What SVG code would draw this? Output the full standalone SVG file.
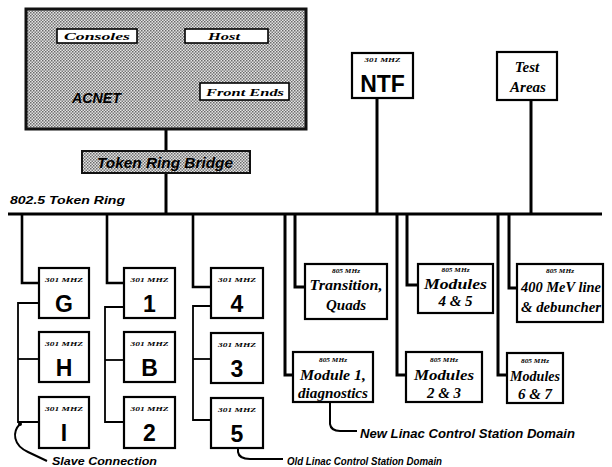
<svg xmlns="http://www.w3.org/2000/svg" width="612" height="467" viewBox="0 0 612 467">
<defs>
<pattern id="ht" width="3" height="3" patternUnits="userSpaceOnUse">
<rect width="3" height="3" fill="#e4e4e4"/>
<rect x="0" y="0" width="1.5" height="1.5" fill="#6a6a6a"/>
<rect x="1.5" y="1.5" width="1.5" height="1.5" fill="#7a7a7a"/>
</pattern>
</defs>
<style>
.box{fill:#fff;stroke:#000;stroke-width:2.2}
.ibox{fill:#fff;stroke:#000;stroke-width:1.6}
.gray{fill:url(#ht);stroke:#111;stroke-width:3}
.w{fill:none;stroke:#000;stroke-width:3}
.d{fill:none;stroke:#000;stroke-width:2.6}
.s{fill:none;stroke:#000;stroke-width:1.8}
.p{fill:none;stroke:#000;stroke-width:2}
.sm{font-family:"Liberation Serif",serif;font-weight:bold;font-style:italic;font-size:6px;text-anchor:middle}
.big{font-family:"Liberation Sans",Arial,sans-serif;font-weight:bold;font-size:23px;text-anchor:middle}
.lab{font-family:"Liberation Serif",serif;font-weight:bold;font-style:italic;font-size:15px;text-anchor:middle}
.il{font-family:"Liberation Serif",serif;font-weight:bold;font-style:italic;font-size:11px;text-anchor:middle}
.sans{font-family:"Liberation Sans",Arial,sans-serif;font-weight:bold;font-style:italic}
</style>

<g id="connectors">
<line class="w" x1="54" y1="57" x2="259" y2="57"/>
<line class="w" x1="97" y1="43" x2="97" y2="57"/>
<line class="w" x1="230" y1="43" x2="230" y2="57"/>
<line class="w" x1="246" y1="57" x2="246" y2="83"/>
<line class="w" x1="166" y1="57" x2="166" y2="151"/>
<line class="w" x1="166" y1="173" x2="166" y2="214"/>
<line class="w" x1="8" y1="214" x2="602" y2="214"/>
<line class="w" x1="377" y1="98" x2="377" y2="214"/>
<line class="w" x1="531" y1="100" x2="531" y2="214"/>
<polyline class="d" points="22,214 22,283 39,283"/>
<polyline class="d" points="107,214 107,283 124,283"/>
<polyline class="d" points="193,214 193,287 211,287"/>
<polyline class="s" points="39,303 18,303 18,422 39,422"/>
<line class="s" x1="18" y1="359" x2="39" y2="359"/>
<polyline class="s" points="124,307 105,307 105,422 124,422"/>
<line class="s" x1="105" y1="360" x2="124" y2="360"/>
<polyline class="s" points="211,306 193,306 193,420 211,420"/>
<line class="s" x1="193" y1="359" x2="211" y2="359"/>
<polyline class="w" points="285,214 285,375 293,375"/>
<polyline class="w" points="295,214 295,287 305,287"/>
<polyline class="w" points="397,214 397,375 406,375"/>
<polyline class="w" points="407,214 407,285 418,285"/>
<polyline class="w" points="498,214 498,375 507,375"/>
<polyline class="w" points="509,214 509,288 517,288"/>
<circle cx="20" cy="424" r="2"/>
<path class="p" d="M20,424 C12,432 13,445 28,452 L47,461"/>
<path class="p" d="M238,448 L238,452 Q239,459 250,459 L283,459"/>
<path class="p" d="M330,402 L330,424 Q331,431 340,431 L357,431"/>
</g>

<g id="acnet">
<rect class="gray" x="26" y="9" width="280" height="120"/>
<text class="sans" x="72" y="103" font-size="15" textLength="49" lengthAdjust="spacingAndGlyphs">ACNET</text>
</g>
<g id="consoles">
<rect class="ibox" x="57" y="29" width="80" height="14"/>
<text class="il" x="97" y="40" textLength="66" lengthAdjust="spacingAndGlyphs">Consoles</text>
</g>
<g id="host">
<rect class="ibox" x="185" y="29" width="83" height="14"/>
<text class="il" x="224" y="40" textLength="32" lengthAdjust="spacingAndGlyphs">Host</text>
</g>
<g id="frontends">
<rect class="ibox" x="200" y="83" width="89" height="17"/>
<text class="il" x="245" y="96" textLength="78" lengthAdjust="spacingAndGlyphs">Front Ends</text>
</g>
<g id="bridge">
<rect class="gray" x="82" y="151" width="168" height="22" style="stroke-width:2"/>
<text class="sans" x="97" y="168" font-size="14" textLength="136" lengthAdjust="spacingAndGlyphs">Token Ring Bridge</text>
</g>
<g id="ringlabel">
<text class="sans" x="10" y="204" font-size="11" font-style="normal" textLength="115" lengthAdjust="spacingAndGlyphs">802.5 Token Ring</text>
</g>

<g id="ntf">
<rect class="box" x="352" y="53" width="61" height="45"/>
<text class="sm" x="382.5" y="62" textLength="36" lengthAdjust="spacingAndGlyphs">301 MHZ</text>
<text class="big" x="382.5" y="92" font-size="24">NTF</text>
</g>
<g id="testareas">
<rect class="box" x="497" y="52" width="60" height="48"/>
<text class="lab" x="527" y="72">Test</text>
<text class="lab" x="528" y="92">Areas</text>
</g>

<g id="nodeG"><rect class="box" x="39" y="268" width="50" height="50"/><text class="sm" x="64" y="282" textLength="38" lengthAdjust="spacingAndGlyphs">301 MHZ</text><text class="big" x="64" y="312">G</text></g>
<g id="nodeH"><rect class="box" x="39" y="332" width="50" height="50"/><text class="sm" x="64" y="346" textLength="38" lengthAdjust="spacingAndGlyphs">301 MHZ</text><text class="big" x="64" y="376">H</text></g>
<g id="nodeI"><rect class="box" x="39" y="397" width="50" height="51"/><text class="sm" x="64" y="411" textLength="38" lengthAdjust="spacingAndGlyphs">301 MHZ</text><text class="big" x="64" y="441">I</text></g>

<g id="node1"><rect class="box" x="124" y="268" width="51" height="50"/><text class="sm" x="149.5" y="282" textLength="38" lengthAdjust="spacingAndGlyphs">301 MHZ</text><text class="big" x="149.5" y="312">1</text></g>
<g id="nodeB"><rect class="box" x="124" y="332" width="51" height="50"/><text class="sm" x="149.5" y="346" textLength="38" lengthAdjust="spacingAndGlyphs">301 MHZ</text><text class="big" x="149.5" y="376">B</text></g>
<g id="node2"><rect class="box" x="124" y="397" width="51" height="51"/><text class="sm" x="149.5" y="411" textLength="38" lengthAdjust="spacingAndGlyphs">301 MHZ</text><text class="big" x="149.5" y="441">2</text></g>

<g id="node4"><rect class="box" x="211" y="268" width="52" height="50"/><text class="sm" x="237" y="282" textLength="38" lengthAdjust="spacingAndGlyphs">301 MHZ</text><text class="big" x="237" y="312">4</text></g>
<g id="node3"><rect class="box" x="211" y="333" width="52" height="50"/><text class="sm" x="237" y="347" textLength="38" lengthAdjust="spacingAndGlyphs">301 MHZ</text><text class="big" x="237" y="377">3</text></g>
<g id="node5"><rect class="box" x="211" y="398" width="52" height="50"/><text class="sm" x="237" y="412" textLength="38" lengthAdjust="spacingAndGlyphs">301 MHZ</text><text class="big" x="237" y="442">5</text></g>

<g id="transition"><rect class="box" x="305" y="264" width="82" height="55"/><text class="sm" x="346" y="273" textLength="28" lengthAdjust="spacingAndGlyphs">805 MHz</text><text class="lab" x="346" y="290" textLength="73" lengthAdjust="spacingAndGlyphs">Transition,</text><text class="lab" x="346" y="310">Quads</text></g>
<g id="mod45"><rect class="box" x="418" y="264" width="75" height="49"/><text class="sm" x="455.5" y="272" textLength="28" lengthAdjust="spacingAndGlyphs">805 MHz</text><text class="lab" x="455.5" y="289" textLength="63" lengthAdjust="spacingAndGlyphs">Modules</text><text class="lab" x="455.5" y="306">4 &amp; 5</text></g>
<g id="mev400"><rect class="box" x="517" y="264" width="86" height="58"/><text class="sm" x="560" y="273" textLength="28" lengthAdjust="spacingAndGlyphs">805 MHz</text><text class="lab" x="561" y="292" textLength="80" lengthAdjust="spacingAndGlyphs">400 MeV line</text><text class="lab" x="561" y="312" textLength="80" lengthAdjust="spacingAndGlyphs">&amp; debuncher</text></g>
<g id="mod1"><rect class="box" x="293" y="352" width="80" height="50"/><text class="sm" x="333" y="362" textLength="28" lengthAdjust="spacingAndGlyphs">805 MHz</text><text class="lab" x="333" y="380" textLength="66" lengthAdjust="spacingAndGlyphs">Module 1,</text><text class="lab" x="333" y="398" textLength="70" lengthAdjust="spacingAndGlyphs">diagnostics</text></g>
<g id="mod23"><rect class="box" x="406" y="352" width="76" height="50"/><text class="sm" x="444" y="362" textLength="28" lengthAdjust="spacingAndGlyphs">805 MHz</text><text class="lab" x="444" y="380" textLength="60" lengthAdjust="spacingAndGlyphs">Modules</text><text class="lab" x="444" y="398">2 &amp; 3</text></g>
<g id="mod67"><rect class="box" x="507" y="353" width="56" height="50"/><text class="sm" x="535" y="363" textLength="28" lengthAdjust="spacingAndGlyphs">805 MHz</text><text class="lab" x="535" y="381" textLength="50" lengthAdjust="spacingAndGlyphs">Modules</text><text class="lab" x="535" y="399">6 &amp; 7</text></g>

<g id="labels">
<text class="sans" x="52" y="465" font-size="11" textLength="105" lengthAdjust="spacingAndGlyphs">Slave Connection</text>
<text class="sans" x="287" y="465" font-size="11" textLength="155" lengthAdjust="spacingAndGlyphs">Old Linac Control Station Domain</text>
<text class="sans" x="360" y="438" font-size="12" textLength="215" lengthAdjust="spacingAndGlyphs">New Linac Control Station Domain</text>
</g>
</svg>
